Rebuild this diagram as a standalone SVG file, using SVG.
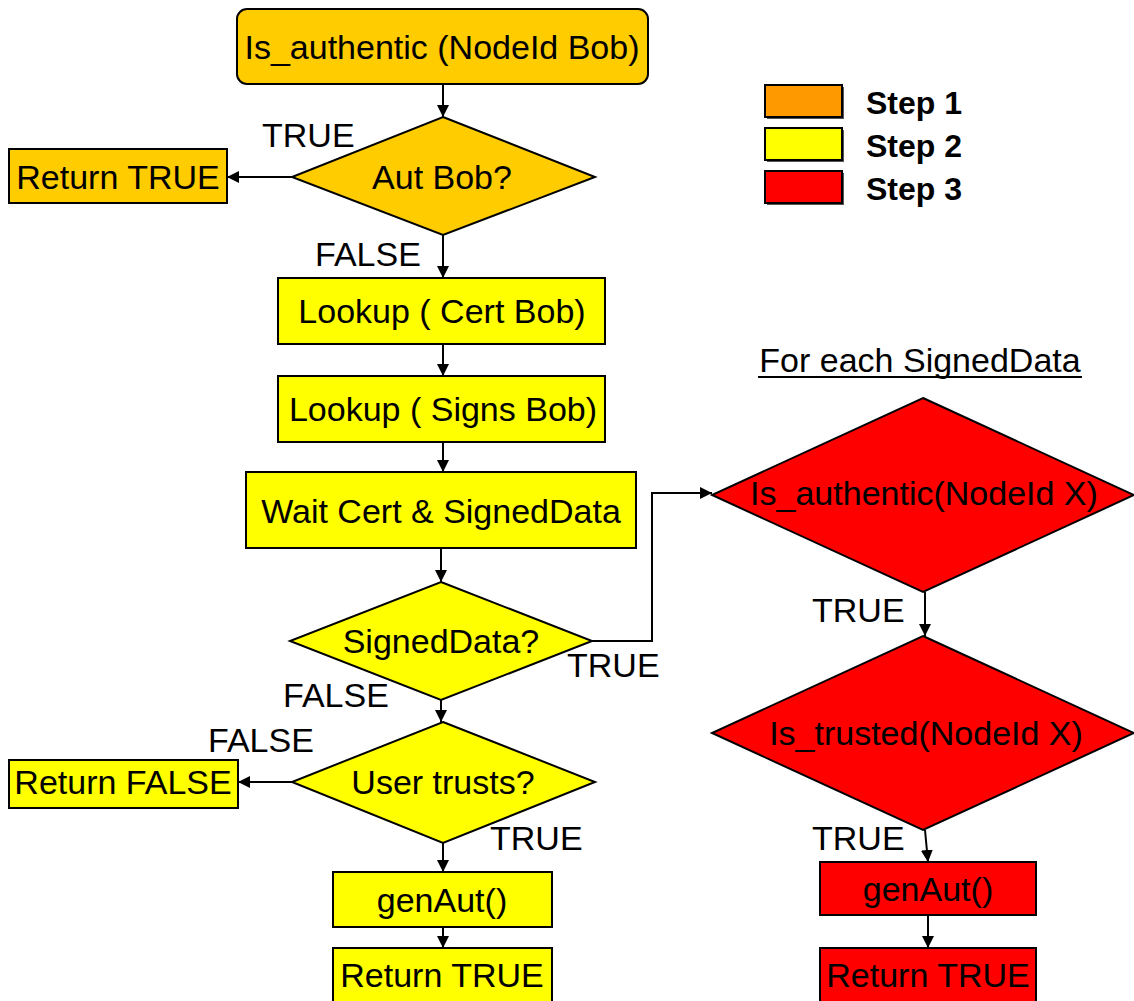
<svg xmlns="http://www.w3.org/2000/svg" width="1134" height="1001" viewBox="0 0 1134 1001">
  <style>
    text { font-family: "Liberation Sans", Arial, sans-serif; font-size: 34px; fill: #000; }
    .c { text-anchor: middle; }
    .key { font-weight: bold; font-size: 32px; }
    .box { stroke: #000; stroke-width: 2; }
    .s1 { fill: #ffcc00; }
    .s2 { fill: #ffff00; }
    .s3 { fill: #ff0000; }
    .edge { fill: none; stroke: #000; stroke-width: 2; marker-end: url(#arrow); }
  </style>
  <defs>
    <marker id="arrow" viewBox="0 0 10 10" refX="10" refY="5" markerWidth="12" markerHeight="12" markerUnits="userSpaceOnUse" orient="auto">
      <path d="M0,0 L10,5 L0,10 z" fill="#000"/>
    </marker>
  </defs>
  <rect width="1134" height="1001" fill="#fff"/>

  <!-- connectors -->
  <g id="connectors">
    <path class="edge" d="M443,84 L443,117"/>
    <path class="edge" d="M292,177 L227,177"/>
    <path class="edge" d="M443,235 L443,278"/>
    <path class="edge" d="M443,344 L443,376"/>
    <path class="edge" d="M443,442 L443,472"/>
    <path class="edge" d="M441,548 L441,582"/>
    <path class="edge" d="M592,641 L652,641 L652,493 L712,493"/>
    <path class="edge" d="M441,700 L441,722"/>
    <path class="edge" d="M292,782 L238,782"/>
    <path class="edge" d="M443,843 L443,872"/>
    <path class="edge" d="M443,927 L443,948"/>
    <path class="edge" d="M925,592 L925,636"/>
    <path class="edge" d="M925,830 L928,862"/>
    <path class="edge" d="M928,915 L928,948"/>
  </g>

  <!-- edge labels -->
  <g id="labels">
    <text x="262" y="147">TRUE</text>
    <text x="315" y="266">FALSE</text>
    <text x="283" y="707">FALSE</text>
    <text x="208" y="752">FALSE</text>
    <text x="567" y="677">TRUE</text>
    <text x="490" y="850">TRUE</text>
    <text x="812" y="622">TRUE</text>
    <text x="812" y="850">TRUE</text>
  </g>

  <!-- step 1 -->
  <g id="start">
    <rect class="box s1" x="237" y="9" width="411" height="75" rx="10"/>
    <text class="c" x="442" y="59">Is_authentic (NodeId Bob)</text>
  </g>
  <g id="aut-bob">
    <polygon class="box s1" points="443,117 595,177 443,235 292,177"/>
    <text class="c" x="442" y="189">Aut Bob?</text>
  </g>
  <g id="return-true-1">
    <rect class="box s1" x="9" y="149" width="218" height="54"/>
    <text class="c" x="118" y="189">Return TRUE</text>
  </g>

  <!-- step 2 -->
  <g id="lookup-cert">
    <rect class="box s2" x="278" y="278" width="327" height="66"/>
    <text class="c" x="442" y="323">Lookup ( Cert Bob)</text>
  </g>
  <g id="lookup-signs">
    <rect class="box s2" x="278" y="376" width="327" height="66"/>
    <text class="c" x="443" y="421">Lookup ( Signs Bob)</text>
  </g>
  <g id="wait">
    <rect class="box s2" x="246" y="472" width="390" height="76"/>
    <text class="c" x="441" y="523">Wait Cert &amp; SignedData</text>
  </g>
  <g id="signed-data">
    <polygon class="box s2" points="441,582 592,641 441,700 290,641"/>
    <text class="c" x="441" y="653">SignedData?</text>
  </g>
  <g id="user-trusts">
    <polygon class="box s2" points="443,722 595,782 443,843 292,782"/>
    <text class="c" x="443" y="794">User trusts?</text>
  </g>
  <g id="return-false">
    <rect class="box s2" x="9" y="760" width="229" height="48"/>
    <text class="c" x="123" y="794">Return FALSE</text>
  </g>
  <g id="gen-aut-2">
    <rect class="box s2" x="333" y="872" width="219" height="55"/>
    <text class="c" x="442" y="912">genAut()</text>
  </g>
  <g id="return-true-2">
    <rect class="box s2" x="333" y="948" width="219" height="56"/>
    <text class="c" x="442" y="987">Return TRUE</text>
  </g>

  <!-- step 3 -->
  <g id="for-each">
    <text class="c" x="920" y="372">For each SignedData</text>
    <line x1="758" y1="377" x2="1082" y2="377" stroke="#000" stroke-width="2"/>
  </g>
  <g id="is-authentic-x">
    <polygon class="box s3" points="923,398 1134,495 923,592 712,495"/>
    <text class="c" x="924" y="505">Is_authentic(NodeId X)</text>
  </g>
  <g id="is-trusted-x">
    <polygon class="box s3" points="923,636 1134,733 923,830 712,733"/>
    <text class="c" x="926" y="745">Is_trusted(NodeId X)</text>
  </g>
  <g id="gen-aut-3">
    <rect class="box s3" x="820" y="862" width="216" height="53"/>
    <text class="c" x="928" y="901">genAut()</text>
  </g>
  <g id="return-true-3">
    <rect class="box s3" x="820" y="948" width="216" height="56"/>
    <text class="c" x="928" y="987">Return TRUE</text>
  </g>

  <!-- legend -->
  <g id="legend">
    <rect x="767" y="87" width="77" height="32" fill="#555"/>
    <rect class="box" x="765" y="85" width="77" height="32" fill="#ff9900"/>
    <text class="key" x="866" y="114">Step 1</text>
    <rect x="767" y="130" width="77" height="32" fill="#555"/>
    <rect class="box s2" x="765" y="128" width="77" height="32"/>
    <text class="key" x="866" y="157">Step 2</text>
    <rect x="767" y="173" width="77" height="32" fill="#555"/>
    <rect class="box s3" x="765" y="171" width="77" height="32"/>
    <text class="key" x="866" y="200">Step 3</text>
  </g>
</svg>
